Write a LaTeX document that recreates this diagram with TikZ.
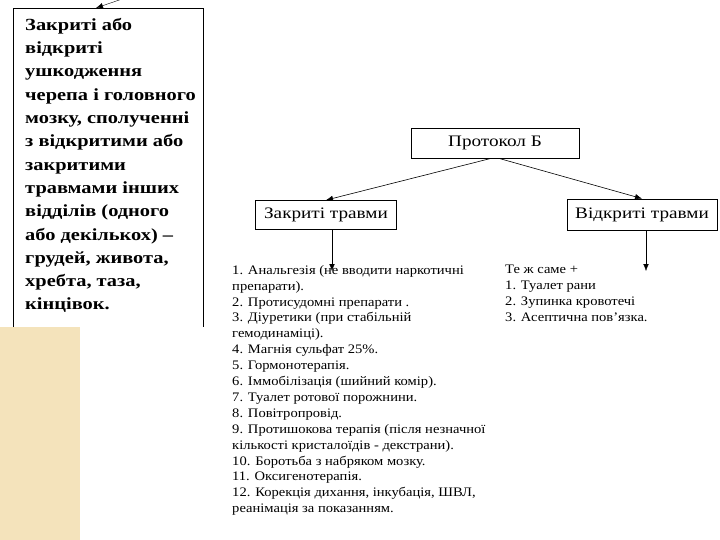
\documentclass[tikz,border=0pt]{standalone}
\usepackage{fontspec}
\setmainfont{Liberation Serif}
\usepackage{tikz}
\usetikzlibrary{arrows.meta}
\usepackage{xcolor}
\definecolor{padtan}{RGB}{244,227,187}

\tikzset{
  headbox/.style={draw, thick, inner sep=0pt, xscale=1.2, font=\fontsize{16}{18}\selectfont},
  listtext/.style={anchor=north west, inner sep=0pt, align=left, xscale=1.12, font=\fontsize{13}{15.9}\selectfont},
}

\begin{document}
\begin{tikzpicture}[x=1pt, y=-1pt, >={Latex[length=7pt,width=5.5pt]}]
    \useasboundingbox (0,0) rectangle (720,540);
    % side panel and open box
    \fill[padtan] (0,327) rectangle (80,540);
    \draw[thick] (13,327) -- (13,8) -- (203,8) -- (203,327);
    \coordinate (topin) at (125,-2);
    \coordinate (topend) at (96,8);
    \draw[->] (topin) -- (topend);
    \node[anchor=north west, inner sep=0pt, align=left, xscale=1.2, font=\fontsize{17}{23.3}\selectfont\bfseries] (injury) at (25,18)
      {Закриті або\\відкриті\\ушкодження\\черепа і головного\\мозку, сполученні\\з відкритими або\\закритими\\травмами інших\\відділів (одного\\або декількох) –\\грудей, живота,\\хребта, таза,\\кінцівок.};
    % tree
    \node[headbox, minimum width=140pt, minimum height=30pt] (proto) at (495,143) {Протокол Б};
    \node[headbox, minimum width=117pt, minimum height=29pt] (zak) at (326,215) {Закриті травми};
    \node[headbox, minimum width=125pt, minimum height=31pt] (vid) at (642,214.5) {Відкриті травми};
    \draw[->, semithick] ([xshift=-4pt]proto.south) -- (zak.north);
    \draw[->, semithick] ([xshift=4pt]proto.south) -- (vid.north);
    \coordinate (zakend) at (332,271);
    \coordinate (vidend) at (646,271);
    \draw[->] (zakend |- zak.south) -- (zakend);
    \draw[->] (vidend |- vid.south) -- (vidend);
    \node[listtext] (zaklist) at (232,265)
      {1. Анальгезія (не вводити наркотичні\\препарати).\\2. Протисудомні препарати .\\3. Діуретики (при стабільній\\гемодинаміці).\\4. Магнія сульфат 25\%.\\5. Гормонотерапія.\\6. Іммобілізація (шийний комір).\\7. Туалет ротової порожнини.\\8. Повітропровід.\\9. Протишокова терапія (після незначної\\кількості кристалоїдів - декстрани).\\10. Боротьба з набряком мозку.\\11. Оксигенотерапія.\\12. Корекція дихання, інкубація, ШВЛ,\\реанімація за показанням.};
    \node[listtext] (vidlist) at (505,265)
      {Те ж саме +\\1. Туалет рани\\2. Зупинка кровотечі\\3. Асептична пов’язка.};
\end{tikzpicture}
\end{document}
